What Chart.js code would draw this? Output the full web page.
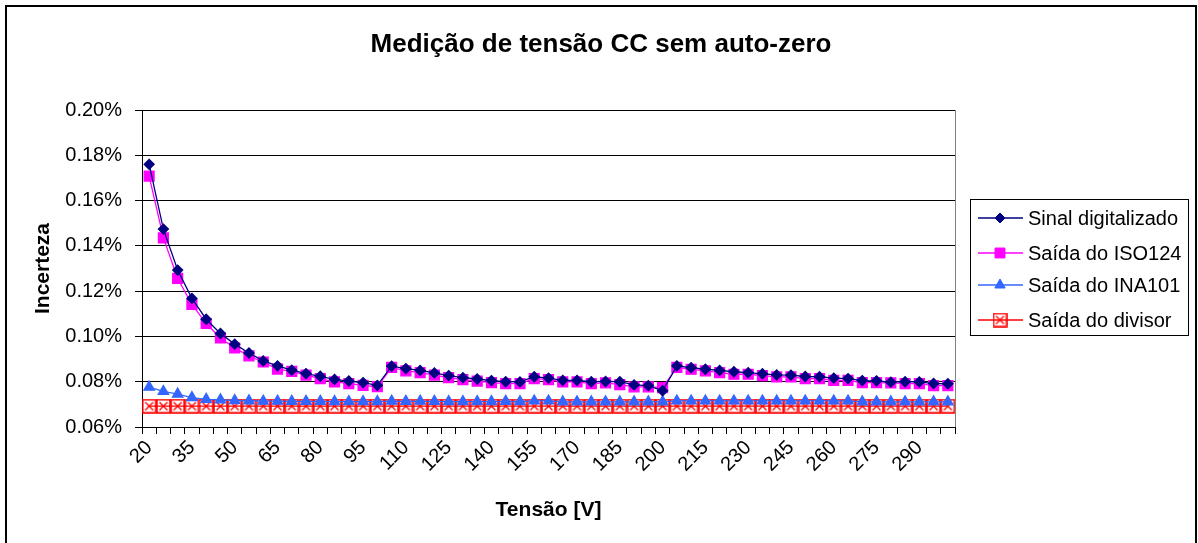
<!DOCTYPE html>
<html>
<head>
<meta charset="utf-8">
<script src="https://cdn.jsdelivr.net/npm/chart.js@4/dist/chart.umd.min.js"></script>
<style>
  html, body { margin: 0; padding: 0; background: #fff; }
  #wrap { width: 1198px; height: 543px; position: relative; }
</style>
</head>
<body>
<div id="wrap"><canvas id="chart" width="1198" height="543"></canvas></div>
<script>
const FONT = "'Liberation Sans', Arial, sans-serif";
const TITULO = 'Medição de tensão CC sem auto-zero';

// Tensão [V]: 20 .. 300, every 5 V
const tensoes = [20, 25, 30, 35, 40, 45, 50, 55, 60, 65, 70, 75, 80, 85, 90, 95, 100,
  105, 110, 115, 120, 125, 130, 135, 140, 145, 150, 155, 160, 165, 170, 175, 180, 185,
  190, 195, 200, 205, 210, 215, 220, 225, 230, 235, 240, 245, 250, 255, 260, 265, 270,
  275, 280, 285, 290, 295, 300];

// only every third category gets a label on the axis
const rotulosX = [20, 35, 50, 65, 80, 95, 110, 125, 140, 155, 170, 185, 200, 215, 230, 245, 260, 275, 290];

// incerteza em %
const sinalDigitalizado = [0.1760, 0.1474, 0.1293, 0.1168, 0.1076, 0.1013, 0.0966, 0.0927,
  0.0892, 0.0870, 0.0851, 0.0836, 0.0824, 0.0810, 0.0803, 0.0796, 0.0784,
  0.0869, 0.0858, 0.0850, 0.0839, 0.0827, 0.0818, 0.0812, 0.0805, 0.0800, 0.0799,
  0.0822, 0.0816, 0.0806, 0.0806, 0.0800, 0.0801, 0.0800, 0.0786, 0.0783, 0.0760,
  0.0870, 0.0862, 0.0855, 0.0850, 0.0844, 0.0840, 0.0835, 0.0830, 0.0829, 0.0823,
  0.0822, 0.0816, 0.0814, 0.0805, 0.0804, 0.0798, 0.0800, 0.0799, 0.0792, 0.0791];

const saidaISO124 = [0.1708, 0.1435, 0.1256, 0.1141, 0.1057, 0.0993, 0.0949, 0.0914,
  0.0887, 0.0856, 0.0846, 0.0829, 0.0814, 0.0799, 0.0792, 0.0784, 0.0778,
  0.0863, 0.0848, 0.0840, 0.0829, 0.0818, 0.0809, 0.0803, 0.0796, 0.0792, 0.0792,
  0.0814, 0.0809, 0.0799, 0.0799, 0.0792, 0.0795, 0.0787, 0.0777, 0.0777, 0.0774,
  0.0863, 0.0855, 0.0848, 0.0840, 0.0833, 0.0833, 0.0827, 0.0821, 0.0821, 0.0814,
  0.0814, 0.0806, 0.0806, 0.0796, 0.0796, 0.0795, 0.0792, 0.0792, 0.0783, 0.0783];

const saidaINA101 = [0.0776, 0.0757, 0.0745, 0.0730, 0.0722, 0.0720, 0.0717, 0.0716,
  0.0714, 0.0714, 0.0713, 0.0713, 0.0713, 0.0712, 0.0712, 0.0712, 0.0712,
  0.0714, 0.0713, 0.0714, 0.0713, 0.0712, 0.0712, 0.0712, 0.0712, 0.0713, 0.0712,
  0.0715, 0.0715, 0.0711, 0.0711, 0.0711, 0.0711, 0.0711, 0.0711, 0.0711, 0.0711,
  0.0715, 0.0715, 0.0715, 0.0715, 0.0715, 0.0715, 0.0715, 0.0715, 0.0715, 0.0715,
  0.0715, 0.0715, 0.0715, 0.0711, 0.0711, 0.0711, 0.0711, 0.0711, 0.0711, 0.0711];

const saidaDivisor = [0.0692, 0.0692, 0.0692, 0.0692, 0.0692, 0.0692, 0.0692, 0.0692,
  0.0692, 0.0692, 0.0692, 0.0692, 0.0692, 0.0692, 0.0692, 0.0692, 0.0692,
  0.0692, 0.0692, 0.0692, 0.0692, 0.0692, 0.0692, 0.0692, 0.0692, 0.0692, 0.0692,
  0.0692, 0.0692, 0.0692, 0.0692, 0.0692, 0.0692, 0.0692, 0.0692, 0.0692, 0.0692,
  0.0692, 0.0692, 0.0692, 0.0692, 0.0692, 0.0692, 0.0692, 0.0692, 0.0692, 0.0692,
  0.0692, 0.0692, 0.0692, 0.0692, 0.0692, 0.0692, 0.0692, 0.0692, 0.0692, 0.0692];

const yTicks = [0.06, 0.08, 0.10, 0.12, 0.14, 0.16, 0.18, 0.20];

// red box with an X, like the Excel marker
function boxX(size) {
  const c = document.createElement('canvas');
  c.width = size; c.height = size;
  const g = c.getContext('2d');
  g.strokeStyle = '#FF0000';
  g.lineWidth = 1.6;
  g.strokeRect(1, 1, size - 2, size - 2);
  g.lineWidth = 1.4;
  g.beginPath();
  g.moveTo(3.5, 3.5); g.lineTo(size - 3.5, size - 3.5);
  g.moveTo(size - 3.5, 3.5); g.lineTo(3.5, size - 3.5);
  g.stroke();
  return c;
}
const divisorMarker = boxX(15);

const frame = {
  id: 'frame',
  beforeDraw(chart) {
    const ctx = chart.ctx;
    ctx.save();
    ctx.fillStyle = '#fff';
    ctx.fillRect(0, 0, chart.width, chart.height);
    ctx.strokeStyle = '#000';
    ctx.lineWidth = 2;
    ctx.strokeRect(6, 6, chart.width - 8, chart.height + 10);
    // chart title, centred on the whole chart box
    ctx.fillStyle = '#000';
    ctx.font = 'bold 26px ' + FONT;
    ctx.textAlign = 'center';
    ctx.textBaseline = 'middle';
    ctx.fillText(TITULO, 601, 45);
    ctx.restore();
  },
  beforeDatasetsDraw(chart) {
    const a = chart.chartArea;
    const ctx = chart.ctx;
    ctx.save();
    ctx.strokeStyle = '#808080';
    ctx.lineWidth = 1;
    ctx.beginPath();
    ctx.moveTo(a.right + 0.5, a.top);
    ctx.lineTo(a.right + 0.5, a.bottom);
    ctx.stroke();
    ctx.restore();
  }
};

// legend box drawn to the right, line sample + marker like Excel
const excelLegend = {
  id: 'excelLegend',
  afterDraw(chart) {
    const ctx = chart.ctx;
    const x0 = chart.chartArea.right + 15;
    const y0 = 199;
    const w = 218, h = 136;
    ctx.save();
    ctx.strokeStyle = '#000';
    ctx.lineWidth = 1;
    ctx.strokeRect(x0 + 0.5, y0 + 0.5, w, h);
    const rows = [19, 54, 86, 121];
    ctx.font = '20px ' + FONT;
    ctx.textBaseline = 'middle';
    chart.data.datasets.forEach((ds, i) => {
      const y = y0 + rows[i];
      ctx.strokeStyle = ds.borderColor;
      ctx.lineWidth = 1.5;
      ctx.beginPath();
      ctx.moveTo(x0 + 8, y);
      ctx.lineTo(x0 + 53, y);
      ctx.stroke();
      if (ds.pointStyle instanceof HTMLCanvasElement) {
        ctx.drawImage(ds.pointStyle, x0 + 30 - 7.5, y - 7.5);
      } else {
        ctx.fillStyle = ds.pointBackgroundColor;
        ctx.strokeStyle = ds.pointBorderColor;
        ctx.lineWidth = 1;
        Chart.helpers.drawPoint(ctx, {
          pointStyle: ds.pointStyle,
          radius: ds.pointRadius,
          borderWidth: 1
        }, x0 + 30, y);
      }
      ctx.fillStyle = '#000';
      ctx.fillText(ds.label, x0 + 58, y + 1);
    });
    ctx.restore();
  }
};

const ctx = document.getElementById('chart').getContext('2d');
new Chart(ctx, {
  type: 'line',
  data: {
    labels: tensoes,
    datasets: [
      {
        label: 'Sinal digitalizado',
        data: sinalDigitalizado,
        borderColor: '#000080',
        backgroundColor: '#000080',
        pointBackgroundColor: '#000080',
        pointBorderColor: '#000080',
        borderWidth: 1.3,
        pointStyle: 'rectRot',
        pointRadius: 5,
        order: 1
      },
      {
        label: 'Saída do ISO124',
        data: saidaISO124,
        borderColor: '#FF00FF',
        backgroundColor: '#FF00FF',
        pointBackgroundColor: '#FF00FF',
        pointBorderColor: '#FF00FF',
        borderWidth: 1.3,
        pointStyle: 'rect',
        pointRadius: 7,
        order: 2
      },
      {
        label: 'Saída do INA101',
        data: saidaINA101,
        borderColor: '#3366FF',
        backgroundColor: '#3366FF',
        pointBackgroundColor: '#3366FF',
        pointBorderColor: '#3366FF',
        borderWidth: 1.3,
        pointStyle: 'triangle',
        pointRadius: 6,
        order: 3
      },
      {
        label: 'Saída do divisor',
        data: saidaDivisor,
        borderColor: '#FF0000',
        backgroundColor: '#FF0000',
        borderWidth: 1.3,
        pointStyle: divisorMarker,
        pointRadius: 7,
        order: 4
      }
    ]
  },
  options: {
    responsive: false,
    animation: false,
    events: [],
    layout: { padding: { top: 110, left: 0, right: 243, bottom: 0 } },
    plugins: {
      legend: { display: false },
      tooltip: { enabled: false },
      title: { display: false }
    },
    scales: {
      x: {
        offset: true,
        grid: { display: true, drawOnChartArea: false, offset: true, color: '#000', tickLength: 7 },
        border: { color: '#000', width: 1 },
        ticks: {
          autoSkip: false,
          maxRotation: 45,
          minRotation: 45,
          color: '#000',
          padding: 2,
          font: { family: FONT, size: 20 },
          callback(v, i) {
            const t = tensoes[i];
            return rotulosX.includes(t) ? String(t) : '';
          }
        },
        title: {
          display: true,
          text: 'Tensão [V]',
          color: '#000',
          font: { family: FONT, size: 21, weight: 'bold' },
          padding: { top: 0, bottom: 20 }
        },
        afterFit(scale) { scale.height = 116; }
      },
      y: {
        min: 0.06,
        max: 0.20,
        grid: { color: '#000', lineWidth: 1, tickLength: 7 },
        border: { color: '#000', width: 1 },
        afterBuildTicks(scale) { scale.ticks = yTicks.map(v => ({ value: v })); },
        ticks: {
          color: '#000',
          padding: 13,
          font: { family: FONT, size: 20 },
          callback: v => v.toFixed(2) + '%'
        },
        title: {
          display: true,
          text: 'Incerteza',
          color: '#000',
          font: { family: FONT, size: 21, weight: 'bold' },
          padding: { top: 31, bottom: 0 }
        },
        afterFit(scale) { scale.width = 142; }
      }
    }
  },
  plugins: [frame, excelLegend]
});
</script>
</body>
</html>
